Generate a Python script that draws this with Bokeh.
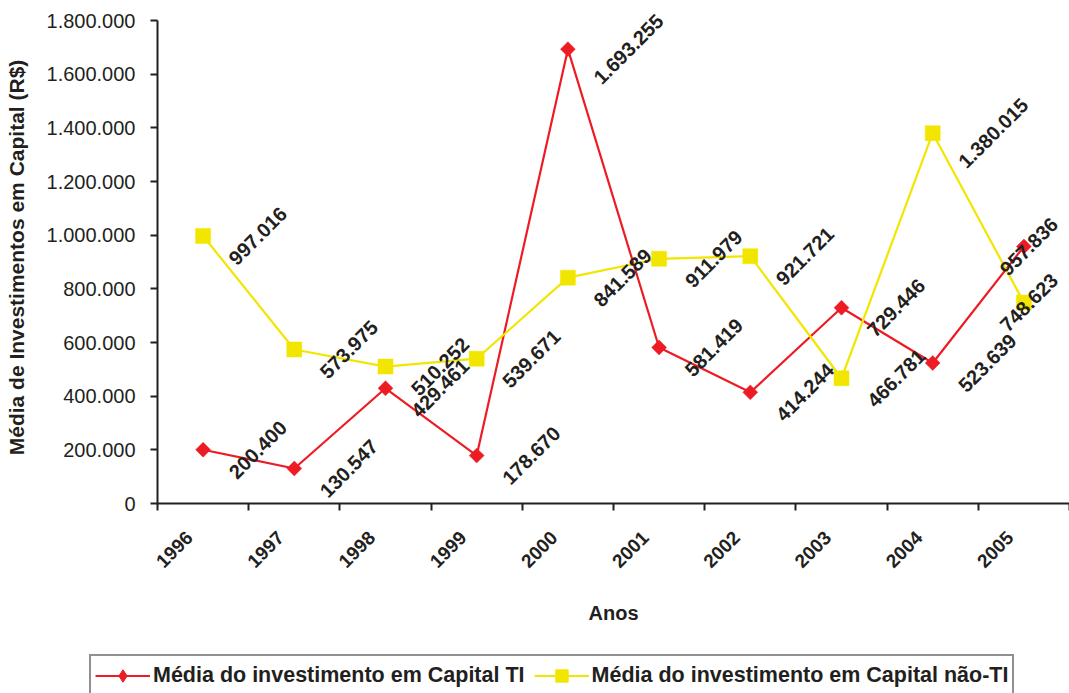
import math
from bokeh.plotting import figure
from bokeh.layouts import column
from bokeh.models import Range1d, FixedTicker, ColumnDataSource, LabelSet, Legend, LegendItem
from bokeh.core.properties import value
from bokeh.embed import file_html
from bokeh.resources import INLINE

# ---- data ----
years = ["1996", "1997", "1998", "1999", "2000", "2001", "2002", "2003", "2004", "2005"]
media_ti = [200400, 130547, 429461, 178670, 1693255, 581419, 414244, 729446, 523639, 957836]
media_nao_ti = [997016, 573975, 510252, 539671, 841589, 911979, 921721, 466781, 1380015, 748623]
y_ticks = [0, 200000, 400000, 600000, 800000, 1000000, 1200000, 1400000, 1600000, 1800000]
y_tick_labels = ["0", "200.000", "400.000", "600.000", "800.000", "1.000.000",
                 "1.200.000", "1.400.000", "1.600.000", "1.800.000"]
series_names = ["Média do investimento em Capital TI", "Média do investimento em Capital não-TI"]

# ---- style / layout ----
INK = "#231f20"
RED = "#ed1c24"
YEL = "#f2e600"
FONT = "Liberation Sans"
LBL_FS = 20
YEAR_SHIFT = 0.15          # rotated year labels sit slightly left of the category centre
W = 1069
H_MAIN, H_LEG = 640, 53
LEFT, TOP, AXIS_BOTTOM = 157, 20, 503   # pixel positions of the value axis span
HEADROOM = 9                             # px above the axis top so value labels are not clipped
FRAME_W = W - LEFT
AXIS_H = AXIS_BOTTOM - TOP
Y_MAX = y_ticks[-1]
y_end = Y_MAX * (AXIS_H + HEADROOM) / AXIS_H

def fmt(v):
    return f"{v:,}".replace(",", ".")

xs = list(range(1, len(years) + 1))
px_per = FRAME_W / len(years)

def label_dx(s, x):
    L = LBL_FS * sum(0.556 if c.isdigit() else 0.278 for c in s)
    half = (L + 0.72 * LBL_FS) / (2 * math.sqrt(2))
    px = (x - 0.5) * px_per
    if px + 24 + 2 * half > FRAME_W:
        return 5.0
    return 24 + half

x_range = Range1d(0.5, len(years) + 0.5)
p = figure(width=W, height=H_MAIN, output_backend="svg", toolbar_location=None,
           x_range=x_range, y_range=Range1d(0, y_end), frame_align=False,
           min_border_left=LEFT, min_border_right=0, min_border_top=TOP - HEADROOM,
           min_border_bottom=H_MAIN - AXIS_BOTTOM)
p.outline_line_color = None
p.grid.visible = False
p.background_fill_color = "white"
p.border_fill_color = "white"

def make_src(vals):
    labs = [fmt(v) for v in vals]
    return ColumnDataSource(dict(x=xs, y=vals, lab=labs,
                                 dx=[label_dx(s, x) for s, x in zip(labs, xs)]))

src_ti = make_src(media_ti)
src_nt = make_src(media_nao_ti)

p.line("x", "y", source=src_ti, line_color=RED, line_width=2.2)
p.scatter("x", "y", source=src_ti, marker="square", angle=math.pi / 4, size=10.5,
          fill_color=RED, line_color=RED, line_width=0.5)
p.line("x", "y", source=src_nt, line_color=YEL, line_width=2.2)
p.scatter("x", "y", source=src_nt, marker="square", size=15,
          fill_color=YEL, line_color=YEL, line_width=0.5)

for src in (src_ti, src_nt):
    p.add_layout(LabelSet(x="x", y="y", text="lab", source=src, x_offset="dx",
                          angle=math.pi / 4, text_align="center", text_baseline="middle",
                          text_font=value(FONT), text_font_style="bold",
                          text_font_size=f"{LBL_FS}px", text_color=INK))

# axes
year_ticks = [x - YEAR_SHIFT for x in xs]
xa = p.xaxis[0]
xa.ticker = FixedTicker(ticks=year_ticks, minor_ticks=[i + 0.5 for i in range(len(years) + 1)])
xa.major_label_overrides = {t: y for t, y in zip(year_ticks, years)}
xa.major_label_orientation = math.pi / 4
xa.major_tick_out = 0
xa.major_tick_in = 0
xa.minor_tick_out = 7
xa.minor_tick_in = 0
xa.minor_tick_line_width = 2
xa.minor_tick_line_color = INK
xa.axis_line_width = 2
xa.axis_line_color = INK
xa.major_label_text_font = FONT
xa.major_label_text_font_style = "bold"
xa.major_label_text_font_size = "19px"
xa.major_label_text_color = INK
xa.major_label_standoff = 24
xa.axis_label = "Anos"
xa.axis_label_text_font = FONT
xa.axis_label_text_font_style = "bold"
xa.axis_label_text_font_size = "20px"
xa.axis_label_text_color = INK
xa.axis_label_standoff = 25

ya = p.yaxis[0]
ya.bounds = (0, Y_MAX)
ya.ticker = FixedTicker(ticks=y_ticks, minor_ticks=[])
ya.major_label_overrides = {t: s for t, s in zip(y_ticks, y_tick_labels)}
ya.major_tick_out = 7
ya.major_tick_in = 0
ya.major_tick_line_width = 2
ya.major_tick_line_color = INK
ya.minor_tick_out = 0
ya.minor_tick_in = 0
ya.axis_line_width = 2
ya.axis_line_color = INK
ya.major_label_text_font = FONT
ya.major_label_text_font_size = "20px"
ya.major_label_text_color = INK
ya.major_label_standoff = 15
ya.axis_label = "Média de Investimentos em Capital (R$)"
ya.axis_label_text_font = FONT
ya.axis_label_text_font_style = "bold"
ya.axis_label_text_font_size = "21px"
ya.axis_label_text_color = INK
ya.axis_label_standoff = 16

# ---- legend strip (its own small figure so the box can sit wider than the plot frame) ----
pl = figure(width=W, height=H_LEG, output_backend="svg", toolbar_location=None,
            x_range=x_range, y_range=Range1d(-2, -1),   # legend-only glyphs fall outside view
            x_axis_location=None, y_axis_location=None, frame_align=False,
            min_border=0, min_border_left=0, min_border_right=0, min_border_top=0,
            min_border_bottom=0)
pl.outline_line_color = None
pl.grid.visible = False
pl.border_fill_color = "white"
g_ti_l = pl.line("x", "y", source=src_ti, line_color=RED, line_width=2.2)
g_ti_m = pl.scatter("x", "y", source=src_ti, marker="diamond", fill_color=RED, line_color=RED)
g_nt_l = pl.line("x", "y", source=src_nt, line_color=YEL, line_width=2.2)
g_nt_m = pl.scatter("x", "y", source=src_nt, marker="square", fill_color=YEL, line_color=YEL)

PAD = 4
GH = 31
LEG_H = 2 * PAD + GH + 3
LEG_LEFT, LEG_TOP = 89, 15
legend = Legend(items=[LegendItem(label=series_names[0], renderers=[g_ti_l, g_ti_m]),
                       LegendItem(label=series_names[1], renderers=[g_nt_l, g_nt_m])],
                orientation="horizontal",
                location=(LEG_LEFT, H_LEG - LEG_TOP - LEG_H),
                label_text_font=FONT, label_text_font_style="bold", label_text_font_size="21.5px",
                label_text_color=INK, glyph_width=55, glyph_height=GH, label_standoff=3,
                spacing=9, padding=PAD, margin=0, border_line_color=INK, border_line_width=2,
                background_fill_color="white", background_fill_alpha=1)
pl.add_layout(legend, "center")

open("out.html", "w").write(file_html(column(p, pl, spacing=0), INLINE))
